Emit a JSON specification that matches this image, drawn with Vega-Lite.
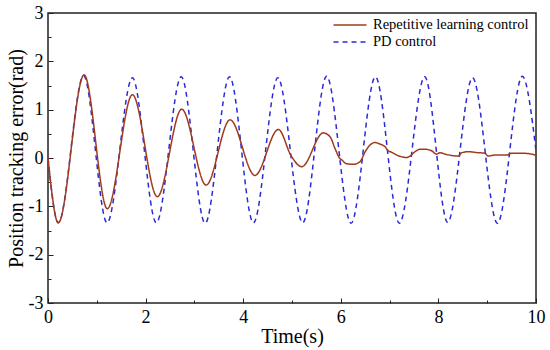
{
  "$schema": "https://vega.github.io/schema/vega-lite/v6.json",
  "width": 488,
  "height": 290,
  "autosize": {"type": "none"},
  "padding": {"left": 48, "top": 13, "right": 14, "bottom": 47},
  "config": {
    "font": "Liberation Serif",
    "view": {"stroke": "#222222", "strokeWidth": 1.5},
    "axis": {"grid": false, "domain": false, "labelColor": "black", "titleColor": "black", "tickColor": "#222222", "labelFont": "Liberation Serif", "titleFont": "Liberation Serif", "titleFontWeight": "normal", "labelFontSize": 18, "titleFontSize": 20, "tickWidth": 1}
  },
  "data": {
    "values": [
      {"t": 0, "v": 0.0, "series": "PD control"},
      {"t": 0.21, "v": -1.34, "series": "PD control"},
      {"t": 0.73, "v": 1.7, "series": "PD control"},
      {"t": 1.21, "v": -1.34, "series": "PD control"},
      {"t": 1.73, "v": 1.66, "series": "PD control"},
      {"t": 2.22, "v": -1.34, "series": "PD control"},
      {"t": 2.73, "v": 1.68, "series": "PD control"},
      {"t": 3.22, "v": -1.35, "series": "PD control"},
      {"t": 3.72, "v": 1.68, "series": "PD control"},
      {"t": 4.21, "v": -1.34, "series": "PD control"},
      {"t": 4.71, "v": 1.66, "series": "PD control"},
      {"t": 5.22, "v": -1.34, "series": "PD control"},
      {"t": 5.71, "v": 1.69, "series": "PD control"},
      {"t": 6.21, "v": -1.35, "series": "PD control"},
      {"t": 6.71, "v": 1.68, "series": "PD control"},
      {"t": 7.2, "v": -1.35, "series": "PD control"},
      {"t": 7.72, "v": 1.68, "series": "PD control"},
      {"t": 8.19, "v": -1.33, "series": "PD control"},
      {"t": 8.7, "v": 1.66, "series": "PD control"},
      {"t": 9.21, "v": -1.35, "series": "PD control"},
      {"t": 9.72, "v": 1.69, "series": "PD control"},
      {"t": 10, "v": 0.15, "series": "PD control"},
      {"t": 0, "v": 0.0, "series": "Repetitive learning control"},
      {"t": 0.21, "v": -1.34, "series": "Repetitive learning control"},
      {"t": 0.74, "v": 1.72, "series": "Repetitive learning control"},
      {"t": 1.215, "v": -1.05, "series": "Repetitive learning control"},
      {"t": 1.73, "v": 1.31, "series": "Repetitive learning control"},
      {"t": 2.24, "v": -0.8, "series": "Repetitive learning control"},
      {"t": 2.74, "v": 1.01, "series": "Repetitive learning control"},
      {"t": 3.24, "v": -0.56, "series": "Repetitive learning control"},
      {"t": 3.73, "v": 0.79, "series": "Repetitive learning control"},
      {"t": 4.24, "v": -0.36, "series": "Repetitive learning control"},
      {"t": 4.72, "v": 0.59, "series": "Repetitive learning control"},
      {"t": 4.99, "v": 0.03, "series": "Repetitive learning control"},
      {"t": 5.2, "v": -0.18, "series": "Repetitive learning control"},
      {"t": 5.64, "v": 0.52, "series": "Repetitive learning control"},
      {"t": 5.78, "v": 0.44, "series": "Repetitive learning control"},
      {"t": 5.88, "v": 0.2, "series": "Repetitive learning control"},
      {"t": 5.98, "v": -0.01, "series": "Repetitive learning control"},
      {"t": 6.02, "v": -0.04, "series": "Repetitive learning control"},
      {"t": 6.12, "v": -0.12, "series": "Repetitive learning control"},
      {"t": 6.26, "v": -0.13, "series": "Repetitive learning control"},
      {"t": 6.39, "v": -0.08, "series": "Repetitive learning control"},
      {"t": 6.5, "v": 0.13, "series": "Repetitive learning control"},
      {"t": 6.6, "v": 0.27, "series": "Repetitive learning control"},
      {"t": 6.7, "v": 0.32, "series": "Repetitive learning control"},
      {"t": 6.8, "v": 0.29, "series": "Repetitive learning control"},
      {"t": 6.91, "v": 0.23, "series": "Repetitive learning control"},
      {"t": 6.97, "v": 0.15, "series": "Repetitive learning control"},
      {"t": 7.04, "v": 0.12, "series": "Repetitive learning control"},
      {"t": 7.15, "v": 0.06, "series": "Repetitive learning control"},
      {"t": 7.35, "v": 0.01, "series": "Repetitive learning control"},
      {"t": 7.42, "v": 0.04, "series": "Repetitive learning control"},
      {"t": 7.52, "v": 0.13, "series": "Repetitive learning control"},
      {"t": 7.62, "v": 0.18, "series": "Repetitive learning control"},
      {"t": 7.73, "v": 0.18, "series": "Repetitive learning control"},
      {"t": 7.86, "v": 0.15, "series": "Repetitive learning control"},
      {"t": 7.96, "v": 0.08, "series": "Repetitive learning control"},
      {"t": 8.03, "v": 0.11, "series": "Repetitive learning control"},
      {"t": 8.14, "v": 0.08, "series": "Repetitive learning control"},
      {"t": 8.41, "v": 0.04, "series": "Repetitive learning control"},
      {"t": 8.48, "v": 0.11, "series": "Repetitive learning control"},
      {"t": 8.61, "v": 0.13, "series": "Repetitive learning control"},
      {"t": 8.82, "v": 0.11, "series": "Repetitive learning control"},
      {"t": 8.95, "v": 0.1, "series": "Repetitive learning control"},
      {"t": 9.02, "v": 0.04, "series": "Repetitive learning control"},
      {"t": 9.16, "v": 0.06, "series": "Repetitive learning control"},
      {"t": 9.4, "v": 0.06, "series": "Repetitive learning control"},
      {"t": 9.5, "v": 0.1, "series": "Repetitive learning control"},
      {"t": 9.71, "v": 0.1, "series": "Repetitive learning control"},
      {"t": 9.91, "v": 0.08, "series": "Repetitive learning control"},
      {"t": 10, "v": 0.06, "series": "Repetitive learning control"}
    ]
  },
  "mark": {"type": "line", "interpolate": "monotone", "strokeWidth": 1.5, "clip": true},
  "encoding": {
    "x": {
      "field": "t", "type": "quantitative",
      "scale": {"domain": [0, 10], "nice": false, "zero": false},
      "axis": {
        "title": "Time(s)",
        "values": [0, 1, 2, 3, 4, 5, 6, 7, 8, 9, 10],
        "labelExpr": "datum.value % 2 === 0 ? '' + datum.value : ''",
        "tickSize": {"condition": {"test": "datum.value % 2 === 0", "value": -5}, "value": -3},
        "labelPadding": 10,
        "labelFlush": false,
        "titlePadding": 0
      }
    },
    "y": {
      "field": "v", "type": "quantitative",
      "scale": {"domain": [-3, 3], "nice": false, "zero": false},
      "axis": {
        "title": "Position tracking error(rad)",
        "values": [-3, -2.5, -2, -1.5, -1, -0.5, 0, 0.5, 1, 1.5, 2, 2.5, 3],
        "labelExpr": "datum.value % 1 === 0 ? '' + datum.value : ''",
        "tickSize": {"condition": {"test": "datum.value % 1 === 0", "value": -5}, "value": -3},
        "labelPadding": 10,
        "labelFlush": false,
        "titlePadding": 2
      }
    },
    "color": {
      "field": "series", "type": "nominal",
      "scale": {"domain": ["Repetitive learning control", "PD control"], "range": ["#A03A1E", "#2A2AD8"]},
      "legend": {
        "title": null,
        "orient": "none",
        "legendX": 293,
        "legendY": 3,
        "labelFontSize": 14.5,
        "labelFont": "Liberation Serif",
        "labelColor": "black",
        "symbolType": "M-2,0H2",
        "symbolSize": 272,
        "symbolStrokeWidth": 1.5,
        "labelOffset": 14,
        "rowPadding": 1,
        "padding": 0,
        "labelLimit": 300
      }
    },
    "strokeDash": {
      "field": "series", "type": "nominal",
      "scale": {"domain": ["Repetitive learning control", "PD control"], "range": [[1, 0], [5, 4]]},
      "legend": null
    }
  }
}
